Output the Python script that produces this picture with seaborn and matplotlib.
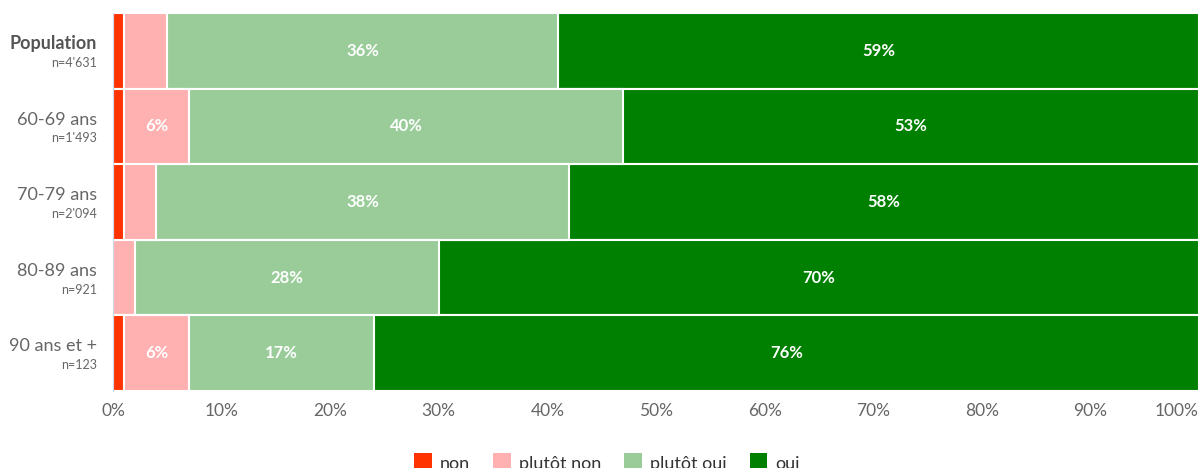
import numpy as np
import pandas as pd
import matplotlib
matplotlib.use("Agg")
import matplotlib.pyplot as plt
import matplotlib.transforms as mtransforms
from matplotlib.patches import Patch
import seaborn as sns

# données
groups = ["Population", "60-69 ans", "70-79 ans", "80-89 ans", "90 ans et +"]
sizes = ["n=4'631", "n=1'493", "n=2'094", "n=921", "n=123"]
answers = ["non", "plutôt non", "plutôt oui", "oui"]
non = [1, 1, 1, 0, 1]
plutot_non = [4, 6, 3, 2, 6]
plutot_oui = [36, 40, 38, 28, 17]
oui = [59, 53, 58, 70, 76]
colors = ["#ff3300", "#ffb0b0", "#99cc99", "#008000"]

sns.set_style("white")
plt.rcParams["font.family"] = ["Lato", "DejaVu Sans"]

df = pd.DataFrame({"group": groups, "non": non, "plutôt non": plutot_non,
                   "plutôt oui": plutot_oui, "oui": oui})
cum = df[answers].cumsum(axis=1)
cum["group"] = groups

fig = plt.figure(figsize=(12.02, 4.68), dpi=100)
ax = fig.add_axes([113 / 1202, 1 - 391 / 468, 1086 / 1202, 378 / 468])

# barres empilées : on dessine les cumuls du plus long au plus court
for ans, col in zip(answers[::-1], colors[::-1]):
    sns.barplot(data=cum, x=ans, y="group", orient="h", color=col,
                saturation=1, width=1.0, edgecolor="white", linewidth=1.5,
                ax=ax)

# étiquettes de valeurs
for i in range(len(groups)):
    left = 0
    for ans in answers:
        v = df.loc[i, ans]
        if v >= 5:
            ax.text(left + v / 2, i, f"{v}%", ha="center", va="center",
                    color="white", fontsize=12, fontweight="bold")
        left += v

ax.set_xlim(0, 100)
ax.set_ylim(len(groups) - 0.5, -0.5)
ax.set_xlabel("")
ax.set_ylabel("")

ax.set_xticks(np.arange(0, 101, 10))
ax.set_xticklabels([f"{v}%" for v in range(0, 101, 10)])
ax.get_xticklabels()[-1].set_ha("right")
ax.tick_params(axis="x", length=0, pad=9, labelsize=12.5, labelcolor="#666666")

ax.set_yticks(range(len(groups)))
ax.set_yticklabels([])
ax.tick_params(axis="y", which="major", length=0)
ax.set_yticks(np.arange(-0.5, len(groups), 1), minor=True)
ax.tick_params(axis="y", which="minor", length=7, width=1, color="#ccd6eb")

for s in ["top", "right", "bottom"]:
    ax.spines[s].set_visible(False)
ax.spines["left"].set_color("#ccd6eb")

trans = mtransforms.blended_transform_factory(ax.transAxes, ax.transData)
for i, (g, n) in enumerate(zip(groups, sizes)):
    ax.text(-0.015, i - 0.09, g, transform=trans, ha="right", va="center",
            fontsize=13, color="#666666" if i else "#555555",
            fontweight="bold" if i == 0 else "normal")
    ax.text(-0.015, i + 0.16, n, transform=trans, ha="right", va="center",
            fontsize=9, color="#666666")

handles = [Patch(facecolor=c, edgecolor="none") for c in colors]
fig.legend(handles, answers, loc="upper center", bbox_to_anchor=(0.505, 1 - 437 / 468),
           ncol=4, frameon=False, fontsize=13, handlelength=0.95, handleheight=1.2,
           handletextpad=0.45, columnspacing=1.3, labelcolor="#333333")

fig.savefig("out.png", dpi=100)
